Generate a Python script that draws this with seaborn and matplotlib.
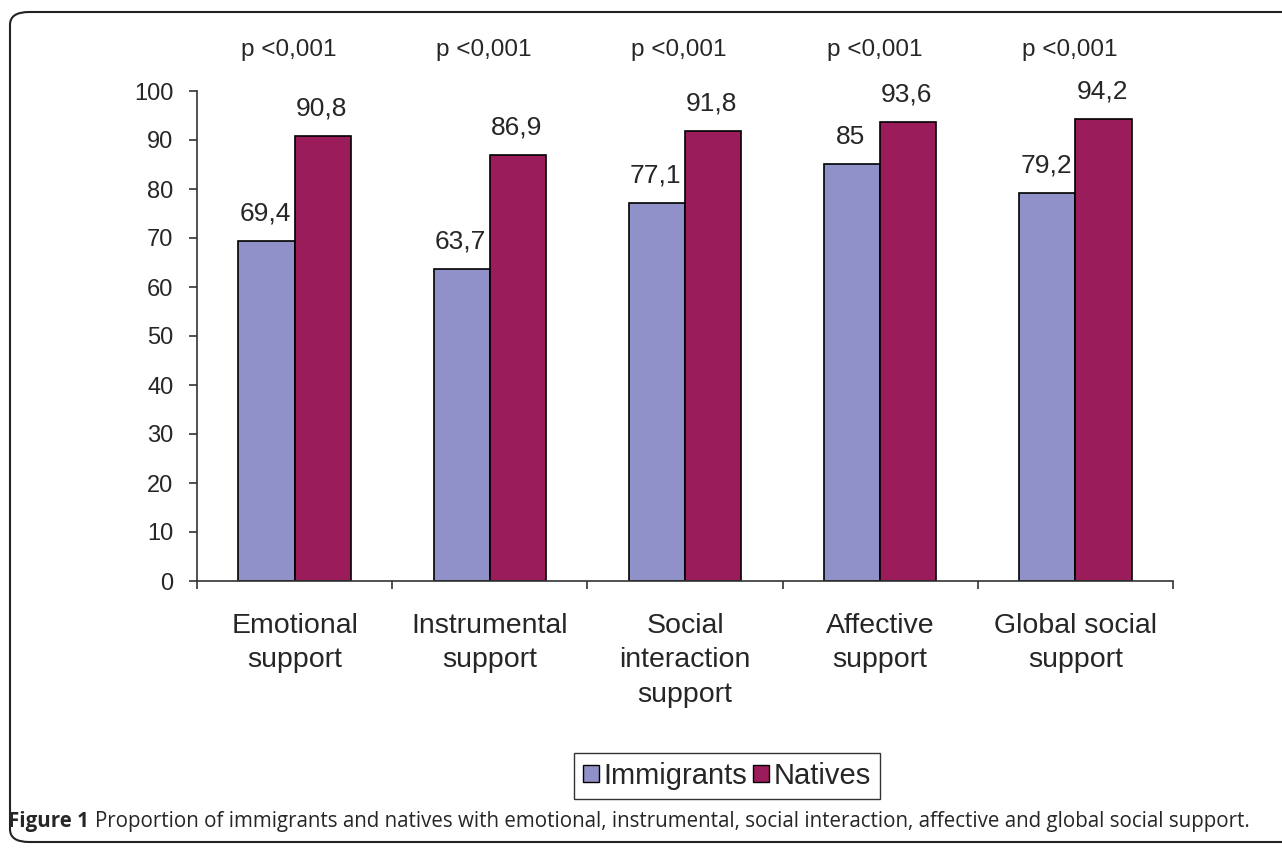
import matplotlib
matplotlib.use("Agg")
import matplotlib.pyplot as plt
from matplotlib.patches import FancyBboxPatch, Patch
import seaborn as sns
import pandas as pd

categories = ["Emotional\nsupport", "Instrumental\nsupport", "Social\ninteraction\nsupport",
              "Affective\nsupport", "Global social\nsupport"]
immigrants = [69.4, 63.7, 77.1, 85, 79.2]
natives = [90.8, 86.9, 91.8, 93.6, 94.2]
value_labels_imm = ["69,4", "63,7", "77,1", "85", "79,2"]
value_labels_nat = ["90,8", "86,9", "91,8", "93,6", "94,2"]
p_labels = ["p <0,001"] * 5
groups = ["Immigrants", "Natives"]
colors = {"Immigrants": "#9191c9", "Natives": "#9b1c5a"}

df = pd.DataFrame({
    "category": categories * 2,
    "group": ["Immigrants"] * 5 + ["Natives"] * 5,
    "value": immigrants + natives,
})

sns.set_style("white")
plt.rcParams["font.family"] = ["Liberation Sans", "DejaVu Sans"]

W, H = 1282, 849
fig = plt.figure(figsize=(W / 100, H / 100), dpi=100)
ax = fig.add_axes([197 / W, 1 - 581 / H, (1173 - 197) / W, (581 - 91) / H])

sns.barplot(data=df, x="category", y="value", hue="group", order=categories,
            hue_order=groups, palette=colors, width=0.575, edgecolor="black",
            linewidth=1.2, ax=ax, legend=False, saturation=1)

ax.set_xlim(-0.48, 4.5)
ax.set_ylim(0, 100)
ax.set_yticks(range(0, 101, 10))
ax.set_xlabel("")
ax.set_ylabel("")
for s in ["top", "right"]:
    ax.spines[s].set_visible(False)
for s in ["left", "bottom"]:
    ax.spines[s].set_color("#333333")
    ax.spines[s].set_linewidth(1.2)
ax.tick_params(axis="y", left=True, length=6, width=1.2, color="#333333",
               labelsize=17, pad=11)
ax.tick_params(axis="x", bottom=False, labelsize=20.5, pad=19.5)
ax.set_xticks(range(5))
ax.set_xticks([i - 0.5 for i in range(6)], minor=True)
ax.tick_params(axis="x", which="minor", bottom=True, length=6, width=1.2, color="#333333")
for lbl in ax.get_xticklabels():
    lbl.set_linespacing(1.42)

imm_bars = ax.containers[0]
nat_bars = ax.containers[1]
for bars, labels in [(imm_bars, value_labels_imm), (nat_bars, value_labels_nat)]:
    for bar, lab in zip(bars, labels):
        ax.annotate(lab, (bar.get_x() + bar.get_width() / 2, bar.get_height()),
                    xytext=(-1, 20), textcoords="offset points", ha="center",
                    va="center", fontsize=19)

for i, p in enumerate(p_labels):
    ax.text(i - 0.03, 108.4, p, ha="center", va="center", fontsize=17.5, clip_on=False)

handles = [Patch(facecolor=colors[g], edgecolor="black", label=g) for g in groups]
fig.legend(handles=handles, loc="center", bbox_to_anchor=(727 / W, 1 - 776 / H), ncol=2,
           fontsize=21, frameon=True, fancybox=False, edgecolor="black",
           handlelength=0.55, handleheight=0.55, handletextpad=0.15, columnspacing=0.2,
           borderpad=0.3, borderaxespad=0)

border = FancyBboxPatch((10 / W, 7 / H), 1300 / W, 830 / H,
                        boxstyle="round,pad=0,rounding_size=0.015",
                        transform=fig.transFigure, facecolor="none",
                        edgecolor="#222222", linewidth=1.5, clip_on=False)
fig.patches.append(border)

cap_y = 1 - 822 / H
t1 = fig.text(8 / W, cap_y, "Figure 1", fontsize=14.8, fontweight="bold", va="center",
              family=["Open Sans", "DejaVu Sans"])
fig.canvas.draw()
r = fig.canvas.get_renderer()
bb = t1.get_window_extent(r)
fig.text(bb.x1 / W + 6 / W, cap_y,
         "Proportion of immigrants and natives with emotional, instrumental, social interaction, affective and global social support.",
         fontsize=14.8, va="center", family=["Open Sans", "DejaVu Sans"])

fig.savefig("out.png", dpi=100)
